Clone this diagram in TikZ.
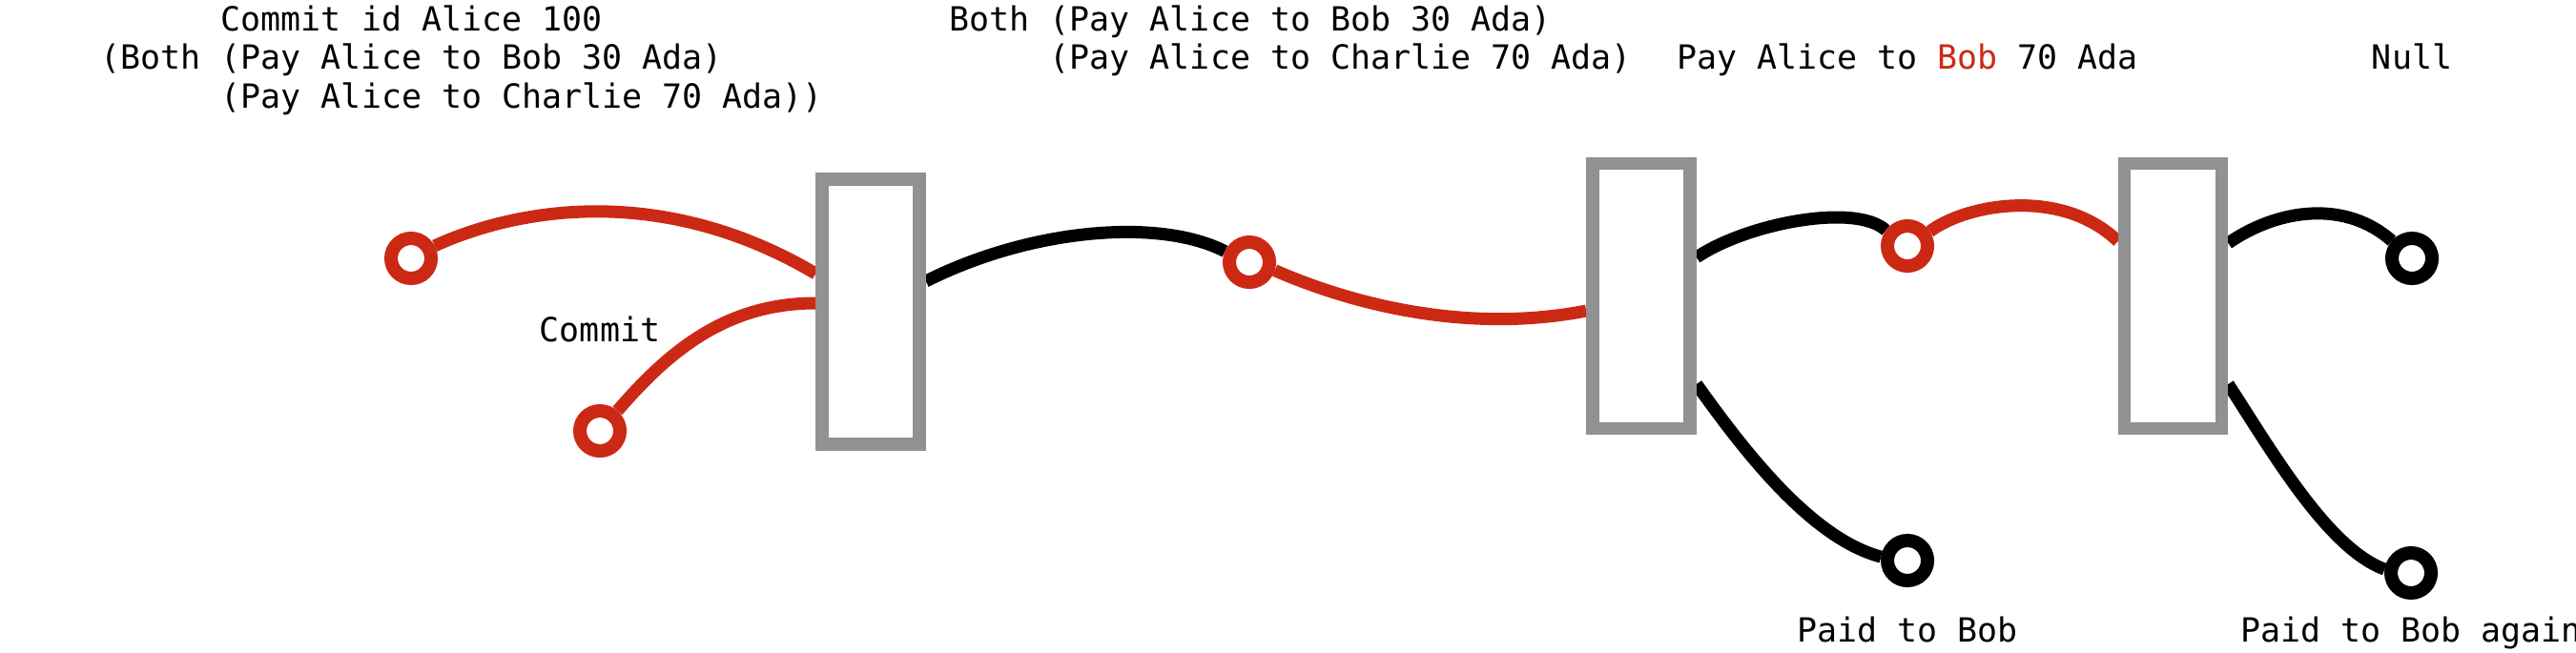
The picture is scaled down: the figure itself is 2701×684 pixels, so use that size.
\documentclass[tikz,border=0pt]{standalone}
\usepackage{fontspec}
\setmonofont{DejaVu Sans Mono}
\usetikzlibrary{calc,backgrounds}
\definecolor{cred}{RGB}{204,41,20}
\definecolor{cgray}{RGB}{145,145,145}
\begin{document}
\begin{tikzpicture}[x=0.01cm,y=-0.01cm,
  txt/.style={inner sep=0pt, font=\ttfamily\fontsize{9.93pt}{12pt}\selectfont},
  port/.style={circle, draw, line width=0.14cm, minimum size=0.42cm, inner sep=0pt, fill=white},
  redport/.style={port, draw=cred},
  blackport/.style={port, draw=black},
  gate/.style={rectangle, draw=cgray, line width=0.135cm, minimum width=1.02cm, minimum height=2.78cm, inner sep=0pt},
  wire/.style={line width=0.13cm},
  redwire/.style={wire, draw=cred},
  blackwire/.style={wire, draw=black}]
\useasboundingbox (0,0) rectangle (2701,684);
% gates
\node[gate] (b1) at (913,327) {};
\node[gate] (b2) at (1721,310.5) {};
\node[gate] (b3) at (2278.5,310.5) {};
% ports
\node[redport] (c1) at (431,271) {};
\node[redport] (c2) at (629,452) {};
\node[redport] (c3) at (1310,275) {};
\node[redport] (c4) at (2000,258) {};
\node[blackport] (c5) at (2529,271) {};
\node[blackport] (c6) at (2000,588) {};
\node[blackport] (c7) at (2528,601) {};
% wires
\begin{scope}[on background layer]
\fill[white] (0,0) rectangle (2701,684);
\draw[redwire] (c1.28) .. controls (550,215) and (700,195) .. ($(b1.west)+(0,-40)$);
\draw[redwire] (c2.49) .. controls (700,370) and (760,318) .. ($(b1.west)+(0,-9)$);
\draw[blackwire] ($(b1.east)+(0,-32)$) .. controls (1080,240) and (1215,228) .. (c3.156);
\draw[redwire] (c3.-18) .. controls (1420,320) and (1540,350) .. ($(b2.west)+(0,15.5)$);
\draw[blackwire] ($(b2.east)+(0,-40.5)$) .. controls (1830,235) and (1945,212) .. (c4.144);
\draw[redwire] (c4.33) .. controls (2060,215) and (2160,195) .. ($(b3.west)+(0,-57.5)$);
\draw[blackwire] ($(b3.east)+(0,-55.5)$) .. controls (2390,218) and (2460,210) .. (c5.139);
\draw[blackwire] ($(b2.east)+(0,92.5)$) .. controls (1830,475) and (1900,565) .. (c6.172);
\draw[blackwire] ($(b3.east)+(0,92.5)$) .. controls (2380,470) and (2440,575) .. (c7.172);
\end{scope}
% labels
\node[txt, anchor=base west] (t1a) at (105,32) {\phantom{(Both }Commit id Alice 100};
\node[txt, anchor=base west] (t1b) at (105,72.5) {(Both (Pay Alice to Bob 30 Ada)};
\node[txt, anchor=base west] (t1c) at (105,113) {\phantom{(Both }(Pay Alice to Charlie 70 Ada))};
\node[txt, anchor=base west] (t2a) at (995,32) {Both (Pay Alice to Bob 30 Ada)};
\node[txt, anchor=base west] (t2b) at (995,72.5) {\phantom{Both }(Pay Alice to Charlie 70 Ada)};
\node[txt, anchor=base] (t3) at (2000,72.5) {Pay Alice to \textcolor{cred}{Bob} 70 Ada};
\node[txt, anchor=base] (t4) at (2529,72.5) {Null};
\node[txt, anchor=base] (t5) at (629,358) {Commit};
\node[txt, anchor=base] (t6) at (2000,673) {Paid to Bob};
\node[txt, anchor=base] (t7) at (2528,673) {Paid to Bob again};
\end{tikzpicture}
\end{document}
